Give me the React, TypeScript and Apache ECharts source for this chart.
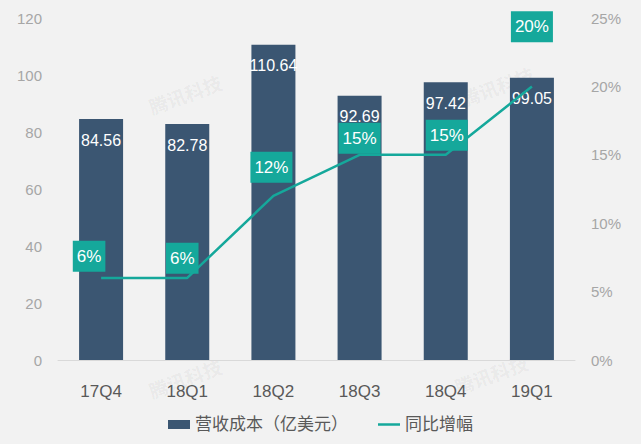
import React, { useEffect, useRef } from "react";
import * as echarts from "echarts";

const categories = ["17Q4", "18Q1", "18Q2", "18Q3", "18Q4", "19Q1"];
const costValues = [84.56, 82.78, 110.64, 92.69, 97.42, 99.05];
const growthValues = [6, 6, 12, 15, 15, 20];
const leftTicks = { min: 0, max: 120, interval: 20 };
const rightTicks = { min: 0, max: 25, interval: 5 };

const BAR_COLOR = "#3b5672";
const LINE_COLOR = "#15a89b";
const FONT = "'Liberation Sans', Arial, 'Noto Sans CJK SC', sans-serif";
// label offsets for the growth labels (style only)
const growthLabelOffsets = [
  [-12, -2],
  [-5, 0],
  [-2, -9],
  [0, 3],
  [1, 0],
  [0, -40],
];

export default function App() {
  const ref = useRef<HTMLDivElement>(null);
  useEffect(() => {
    document.body.style.margin = "0";
    if (!ref.current) return;
    const chart = echarts.init(ref.current, null, { renderer: "svg" });
    const wm = (x: number, y: number) => ({
      type: "text",
      x,
      y,
      z: -10,
      rotation: 0.35,
      silent: true,
      style: {
        text: "腾讯科技",
        fill: "rgba(0,0,0,0.05)",
        font: "bold 19px 'Noto Sans CJK SC'",
      },
    });
    chart.setOption({
      animation: false,
      backgroundColor: "#f2f2f2",
      textStyle: { fontFamily: FONT },
      graphic: [wm(146, 98), wm(146, 382), wm(458, 90), wm(452, 378)],
      grid: { left: 58, right: 66, top: 18, bottom: 84 },
      legend: {
        top: 411,
        left: "center",
        itemWidth: 22,
        itemHeight: 9,
        itemGap: 30,
        textStyle: { fontSize: 17, color: "#595959", fontFamily: FONT },
        data: [
          { name: "营收成本（亿美元）", icon: "rect" },
          { name: "同比增幅", icon: "path://M0,0H22V2.5H0Z" },
        ],
      },
      xAxis: {
        type: "category",
        data: categories,
        axisLine: { lineStyle: { color: "#d9d9d9", width: 1 } },
        axisTick: { show: false },
        axisLabel: { color: "#595959", fontSize: 17, margin: 23 },
      },
      yAxis: [
        {
          type: "value",
          ...leftTicks,
          splitLine: { show: false },
          axisLine: { show: false },
          axisTick: { show: false },
          axisLabel: { color: "#a6a6a6", fontSize: 15, margin: 16 },
        },
        {
          type: "value",
          ...rightTicks,
          splitLine: { show: false },
          axisLine: { show: false },
          axisTick: { show: false },
          axisLabel: {
            color: "#a6a6a6",
            fontSize: 15,
            margin: 16,
            formatter: "{value}%",
          },
        },
      ],
      series: [
        {
          name: "营收成本（亿美元）",
          type: "bar",
          data: costValues,
          barWidth: 44,
          itemStyle: { color: BAR_COLOR },
          label: {
            show: true,
            position: "insideTop",
            distance: 13,
            color: "#ffffff",
            fontSize: 16,
            formatter: (p: any) => p.value.toFixed(2),
          },
        },
        {
          name: "同比增幅",
          type: "line",
          yAxisIndex: 1,
          symbol: "circle",
          symbolSize: 0.1,
          showSymbol: true,
          data: growthValues.map((v, i) => ({
            value: v,
            label: { offset: growthLabelOffsets[i] },
          })),
          lineStyle: { color: LINE_COLOR, width: 2.5 },
          itemStyle: { color: LINE_COLOR },
          label: {
            show: true,
            position: "top",
            distance: 4,
            color: "#ffffff",
            fontSize: 17,
            backgroundColor: LINE_COLOR,
            padding: [7, 4, 7, 4],
            formatter: "{c}%",
          },
        },
      ],
    });
    return () => chart.dispose();
  }, []);
  return <div ref={ref} style={{ width: 641, height: 444 }} />;
}
